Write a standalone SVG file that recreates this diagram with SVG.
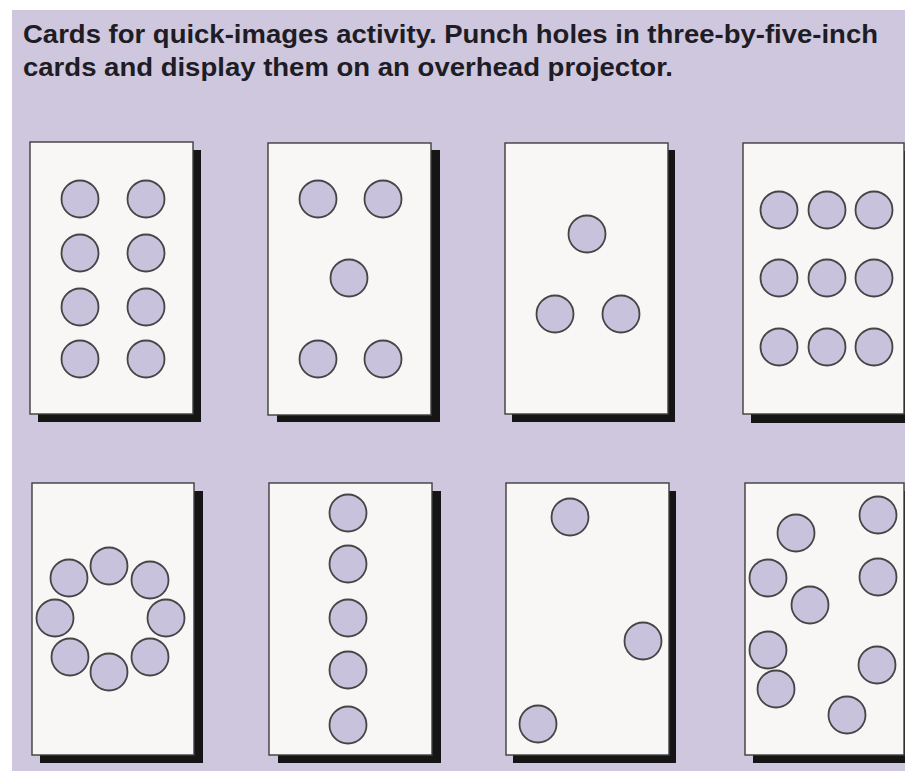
<svg xmlns="http://www.w3.org/2000/svg" width="905" height="771" viewBox="0 0 905 771">
<defs>
<style>
.bg{fill:#cec7dd}
.card{fill:#f9f7f5;stroke:#3e3e3e;stroke-width:1.4}
.shadow{fill:#151515}
.hole{fill:#c9c2dd;stroke:#454545;stroke-width:1.8}
.title{font-family:"Liberation Sans",Arial,sans-serif;font-weight:bold;font-size:25px;fill:#1e1c24}
</style>
</defs>
<rect x="0" y="0" width="905" height="771" fill="#ffffff"/>
<rect class="bg" x="12" y="10" width="893" height="761"/>
<g id="title">
<text class="title" x="23" y="43" textLength="855" lengthAdjust="spacingAndGlyphs">Cards for quick-images activity. Punch holes in three-by-five-inch</text>
<text class="title" x="23" y="76" textLength="650" lengthAdjust="spacingAndGlyphs">cards and display them on an overhead projector.</text>
</g>
<g id="card1">
<rect class="shadow" x="38" y="150" width="163" height="272"/>
<rect class="card" x="30" y="142" width="163" height="272"/>
<circle class="hole" cx="80" cy="199" r="18.5"/>
<circle class="hole" cx="146" cy="199" r="18.5"/>
<circle class="hole" cx="80" cy="253" r="18.5"/>
<circle class="hole" cx="146" cy="253" r="18.5"/>
<circle class="hole" cx="80" cy="307" r="18.5"/>
<circle class="hole" cx="146" cy="307" r="18.5"/>
<circle class="hole" cx="80" cy="359" r="18.5"/>
<circle class="hole" cx="146" cy="359" r="18.5"/>
</g>
<g id="card2">
<rect class="shadow" x="277" y="150" width="163" height="272"/>
<rect class="card" x="268" y="143" width="163" height="272"/>
<circle class="hole" cx="318" cy="199" r="18.5"/>
<circle class="hole" cx="383" cy="199" r="18.5"/>
<circle class="hole" cx="349" cy="278" r="18.5"/>
<circle class="hole" cx="318" cy="359" r="18.5"/>
<circle class="hole" cx="383" cy="359" r="18.5"/>
</g>
<g id="card3">
<rect class="shadow" x="512" y="150" width="163" height="272"/>
<rect class="card" x="505" y="143" width="163" height="271"/>
<circle class="hole" cx="587" cy="234" r="18.5"/>
<circle class="hole" cx="555" cy="314" r="18.5"/>
<circle class="hole" cx="621" cy="314" r="18.5"/>
</g>
<g id="card4">
<rect class="shadow" x="751" y="151" width="154" height="272"/>
<rect class="card" x="743" y="143" width="161" height="271"/>
<circle class="hole" cx="779" cy="210" r="18.5"/>
<circle class="hole" cx="827" cy="210" r="18.5"/>
<circle class="hole" cx="874" cy="210" r="18.5"/>
<circle class="hole" cx="779" cy="278" r="18.5"/>
<circle class="hole" cx="827" cy="278" r="18.5"/>
<circle class="hole" cx="874" cy="278" r="18.5"/>
<circle class="hole" cx="779" cy="347" r="18.5"/>
<circle class="hole" cx="827" cy="347" r="18.5"/>
<circle class="hole" cx="874" cy="347" r="18.5"/>
</g>
<g id="card5">
<rect class="shadow" x="40" y="491" width="163" height="272"/>
<rect class="card" x="32" y="483" width="162" height="272"/>
<circle class="hole" cx="109" cy="566" r="18.5"/>
<circle class="hole" cx="69" cy="578" r="18.5"/>
<circle class="hole" cx="150" cy="580" r="18.5"/>
<circle class="hole" cx="55" cy="618" r="18.5"/>
<circle class="hole" cx="166" cy="618" r="18.5"/>
<circle class="hole" cx="70" cy="657" r="18.5"/>
<circle class="hole" cx="150" cy="657" r="18.5"/>
<circle class="hole" cx="109" cy="672" r="18.5"/>
</g>
<g id="card6">
<rect class="shadow" x="278" y="491" width="163" height="272"/>
<rect class="card" x="269" y="483" width="163" height="272"/>
<circle class="hole" cx="348" cy="513" r="18.5"/>
<circle class="hole" cx="348" cy="564" r="18.5"/>
<circle class="hole" cx="348" cy="618" r="18.5"/>
<circle class="hole" cx="348" cy="670" r="18.5"/>
<circle class="hole" cx="348" cy="725" r="18.5"/>
</g>
<g id="card7">
<rect class="shadow" x="513" y="491" width="163" height="272"/>
<rect class="card" x="506" y="483" width="163" height="272"/>
<circle class="hole" cx="570" cy="517" r="18.5"/>
<circle class="hole" cx="643" cy="641" r="18.5"/>
<circle class="hole" cx="538" cy="724" r="18.5"/>
</g>
<g id="card8">
<rect class="shadow" x="753" y="491" width="152" height="272"/>
<rect class="card" x="745" y="483" width="159" height="272"/>
<circle class="hole" cx="878" cy="515" r="18.5"/>
<circle class="hole" cx="796" cy="533" r="18.5"/>
<circle class="hole" cx="878" cy="577" r="18.5"/>
<circle class="hole" cx="768" cy="578" r="18.5"/>
<circle class="hole" cx="810" cy="605" r="18.5"/>
<circle class="hole" cx="768" cy="650" r="18.5"/>
<circle class="hole" cx="877" cy="665" r="18.5"/>
<circle class="hole" cx="776" cy="689" r="18.5"/>
<circle class="hole" cx="847" cy="715" r="18.5"/>
</g>
<g id="connectors"/>
</svg>
